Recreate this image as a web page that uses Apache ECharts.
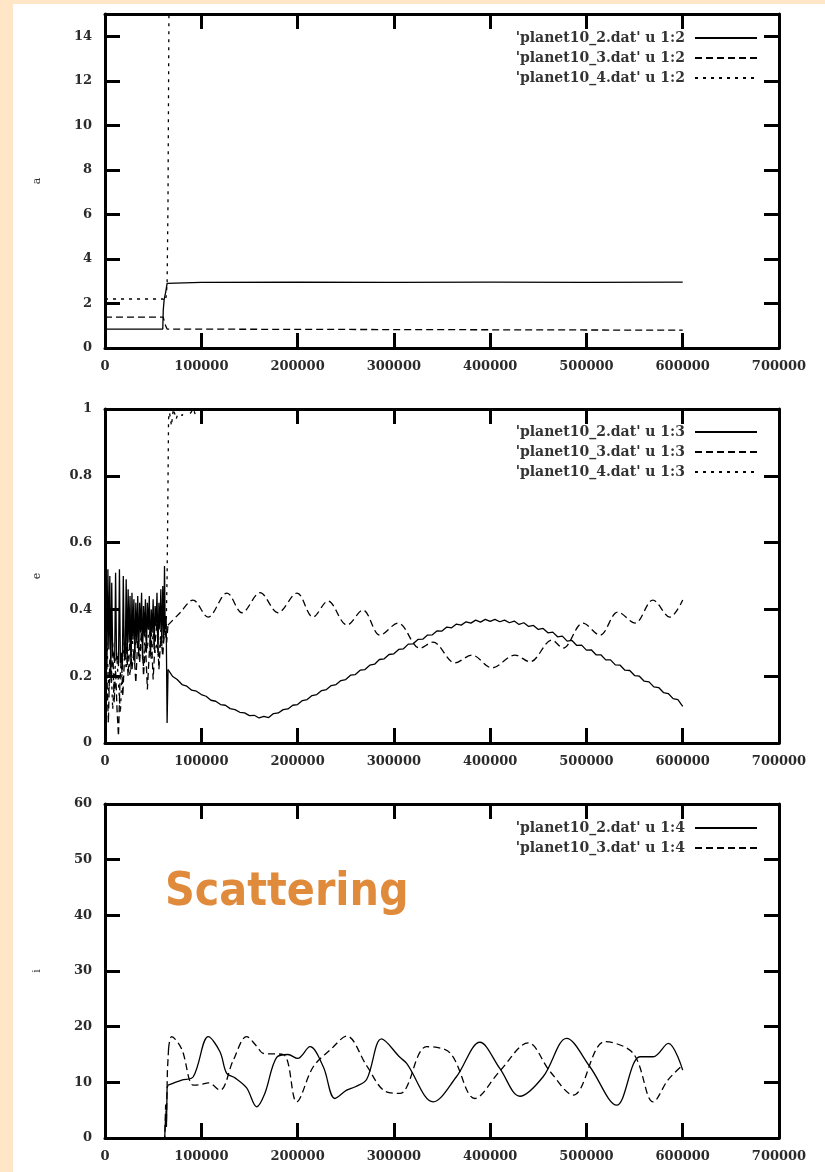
<!DOCTYPE html>
<html>
<head>
<meta charset="utf-8">
<script src="https://cdn.jsdelivr.net/npm/echarts@6/dist/echarts.min.js"></script>
<style>
html,body{margin:0;padding:0;background:#FEE6C6;}
#paper{position:absolute;left:13px;top:4px;width:812px;height:1168px;background:#fff;}
#chart{position:absolute;left:0;top:0;width:825px;height:1172px;}
</style>
</head>
<body>
<div id="paper"></div>
<div id="chart"></div>
<script>
// ---------- tick settings ----------
const xTickStep = 100000, xMax = 700000;
const aMax = 15, aStep = 2;
const eMax = 1, eStep = 0.2;
const iMax = 60, iStep = 10;

// ---------- legend labels ----------
const namesA = ["'planet10_2.dat' u 1:2", "'planet10_3.dat' u 1:2", "'planet10_4.dat' u 1:2"];
const namesE = ["'planet10_2.dat' u 1:3", "'planet10_3.dat' u 1:3", "'planet10_4.dat' u 1:3"];
const namesI = ["'planet10_2.dat' u 1:4", "'planet10_3.dat' u 1:4"];

// ---------- panel a (semi-major axis) ----------
const a2 = [[0,0.85],[60000,0.85],[60500,1.7],[61500,2.2],[63000,2.5],[64500,2.9],[66000,2.97],[100000,2.95],[200000,2.96],[300000,2.95],[400000,2.96],[500000,2.95],[600000,2.96]];
const a3 = [[0,1.39],[60500,1.39],[61500,1.2],[63000,1.0],[64500,0.85],[66500,0.8],[600000,0.8]];
const a4 = [[0,2.2],[60000,2.2],[62000,2.1],[63500,2.3],[64500,2.9],[65400,6.4],[66500,16]];

// ---------- panel e (eccentricity) ----------
const e2pre = [[0,0.25],[1000,0.53],[2000,0.22],[3000,0.52],[4000,0.28],[5000,0.50],[6000,0.20],[7000,0.48],[8000,0.26],[9000,0.27],[10000,0.24],[11000,0.51],[12000,0.25],[13000,0.26],[14000,0.23],[15000,0.52],[16000,0.24],[17000,0.27],[18000,0.22],[19000,0.50],[20000,0.26],[21000,0.25],[22000,0.49],[23000,0.24],[24000,0.46],[25000,0.30],[26000,0.44],[27000,0.22],[28000,0.45],[29000,0.31],[30000,0.43],[31000,0.24],[32000,0.42],[33000,0.30],[34000,0.44],[35000,0.26],[36000,0.42],[37000,0.33],[38000,0.45],[39000,0.25],[40000,0.41],[41000,0.32],[42000,0.43],[43000,0.27],[44000,0.42],[45000,0.34],[46000,0.44],[47000,0.26],[48000,0.40],[49000,0.33],[50000,0.43],[51000,0.28],[52000,0.41],[53000,0.35],[54000,0.45],[55000,0.27],[56000,0.42],[57000,0.34],[58000,0.46],[59000,0.29],[60000,0.47],[61000,0.31],[61800,0.53],[62500,0.34],[63500,0.38],[64500,0.06],[65500,0.22]];
const e2post = [[65500,0.22],[70000,0.20],[75000,0.19],[80000,0.175],[85000,0.17],[90000,0.158],[95000,0.155],[100000,0.145],[105000,0.14],[110000,0.128],[115000,0.125],[120000,0.115],[125000,0.113],[130000,0.103],[135000,0.1],[140000,0.092],[145000,0.09],[150000,0.082],[155000,0.083],[160000,0.075],[165000,0.08],[170000,0.076],[175000,0.088],[180000,0.09],[185000,0.1],[190000,0.102],[195000,0.113],[200000,0.115],[205000,0.127],[210000,0.13],[215000,0.142],[220000,0.145],[225000,0.157],[230000,0.16],[235000,0.172],[240000,0.175],[245000,0.187],[250000,0.19],[255000,0.203],[260000,0.205],[265000,0.218],[270000,0.22],[275000,0.233],[280000,0.236],[285000,0.25],[290000,0.252],[295000,0.265],[300000,0.267],[305000,0.28],[310000,0.282],[315000,0.296],[320000,0.297],[325000,0.31],[330000,0.311],[335000,0.323],[340000,0.324],[345000,0.336],[350000,0.335],[355000,0.347],[360000,0.345],[365000,0.356],[370000,0.353],[375000,0.363],[380000,0.359],[385000,0.368],[390000,0.362],[395000,0.37],[400000,0.364],[405000,0.37],[410000,0.363],[415000,0.368],[420000,0.36],[425000,0.365],[430000,0.355],[435000,0.36],[440000,0.349],[445000,0.352],[450000,0.34],[455000,0.343],[460000,0.33],[465000,0.332],[470000,0.318],[475000,0.32],[480000,0.305],[485000,0.307],[490000,0.292],[495000,0.293],[500000,0.278],[505000,0.279],[510000,0.264],[515000,0.264],[520000,0.249],[525000,0.249],[530000,0.234],[535000,0.233],[540000,0.218],[545000,0.217],[550000,0.202],[555000,0.2],[560000,0.185],[565000,0.183],[570000,0.168],[575000,0.166],[580000,0.151],[585000,0.148],[590000,0.133],[595000,0.13],[600000,0.11]];
const e3pre = [[0,0.28],[2000,0.20],[3500,0.06],[5000,0.25],[6500,0.18],[8000,0.30],[9500,0.12],[11000,0.22],[12500,0.10],[14000,0.02],[15500,0.18],[17000,0.26],[18500,0.14],[20000,0.24],[22000,0.30],[24000,0.20],[26000,0.33],[28000,0.22],[30000,0.28],[32000,0.18],[34000,0.31],[36000,0.24],[38000,0.35],[40000,0.20],[42000,0.30],[44000,0.16],[46000,0.27],[48000,0.33],[50000,0.19],[52000,0.30],[54000,0.36],[56000,0.22],[58000,0.32],[60000,0.26],[62000,0.35],[64000,0.30],[65400,0.353]];
const e3post = [[65400,0.353],[78000,0.39],[91400,0.428],[107000,0.377],[126700,0.449],[142300,0.390],[161000,0.450],[179600,0.390],[199400,0.449],[216000,0.377],[231600,0.425],[251300,0.353],[267900,0.398],[285600,0.323],[304300,0.359],[327100,0.284],[340600,0.302],[363400,0.240],[381100,0.263],[401900,0.225],[425800,0.263],[441300,0.243],[464200,0.308],[475600,0.284],[496400,0.359],[514000,0.323],[532700,0.392],[550400,0.359],[569000,0.428],[586700,0.377],[600000,0.428]];
const e4 = [[0,0.22],[2000,0.30],[4000,0.15],[6000,0.26],[8000,0.10],[10000,0.21],[12000,0.27],[14000,0.18],[16000,0.09],[18000,0.24],[20000,0.30],[22000,0.22],[24000,0.28],[26000,0.20],[28000,0.33],[30000,0.24],[32000,0.30],[34000,0.35],[36000,0.26],[38000,0.32],[40000,0.23],[42000,0.34],[44000,0.28],[46000,0.36],[48000,0.25],[50000,0.33],[52000,0.27],[54000,0.30],[56000,0.24],[58000,0.34],[60000,0.30],[62000,0.32],[63500,0.35],[64500,0.5],[65000,0.64],[65500,0.8],[66000,0.97],[67000,0.99],[69000,0.95],[71000,1.0],[74000,0.97],[77000,1.0],[80000,0.98],[84000,1.0],[88000,0.985],[92000,1.0],[94000,0.98]];

// ---------- panel i (inclination) ----------
const i2pre = [[0,0],[62000,0],[63000,4],[63800,2],[64500,9],[65500,9.5]];
const i2post = [[65500,9.5],[79600,10.4],[91700,11],[107300,18.2],[119400,15.5],[126400,11.6],[135000,10.8],[147100,9],[157500,5.6],[166000,8],[178300,14.5],[190000,15],[200000,14.3],[212900,16.4],[226700,12.8],[238800,7.1],[251000,8.6],[260000,9.2],[271700,10.5],[287300,17.8],[306300,14.5],[313300,13.4],[340900,6.5],[365000,11],[389400,17.2],[410000,12.5],[431000,7.5],[455000,11],[479400,17.9],[503600,12.8],[531400,5.9],[555600,14.6],[569400,14.6],[585000,17],[600000,12.2]];
const i3pre = [[0,0],[62000,0],[63000,6],[63800,3],[64800,12],[66000,16]];
const i3post = [[66000,16],[69200,18.2],[79600,16],[91700,9.5],[100000,9.6],[107300,9.9],[119400,8.6],[133300,14],[147100,18.2],[157500,16.5],[164400,15.2],[185200,15],[199100,6.5],[216300,12.8],[235000,16],[251000,18.3],[271700,13],[290000,8.5],[306300,8],[334000,16.4],[358300,15.3],[384200,7.1],[410000,12],[439600,17.1],[462000,12],[486300,7.7],[519200,17.3],[548600,15.2],[569400,6.5],[585000,10.5],[600000,13.1]];

// ---------- build option ----------
const FRAME = {onZero:false, lineStyle:{color:'#000',width:3}};
const TICK = {inside:true,length:15,lineStyle:{color:'#000',width:3}};
const LABEL = {color:'#2a2a2a',fontFamily:'DejaVu Serif',fontWeight:'bold',fontSize:13};
const gridTops = [14, 409, 804];
const gridH = 334;

const grids = gridTops.map(t => ({left:105, width:674, top:t, height:gridH, containLabel:false}));
const xAxes = [], yAxes = [];
const yMax = [aMax, eMax, iMax], ySteps = [aStep, eStep, iStep], yNames = ['a','e','i'];
for (let g = 0; g < 3; g++) {
  xAxes.push({type:'value', gridIndex:g, min:0, max:xMax, interval:xTickStep, position:'bottom',
    axisLine:FRAME, axisTick:TICK, splitLine:{show:false},
    axisLabel:Object.assign({margin:12, formatter:v=>String(v)}, LABEL)});
  xAxes.push({type:'value', gridIndex:g, min:0, max:xMax, interval:xTickStep, position:'top',
    axisLine:FRAME, axisTick:TICK, splitLine:{show:false}, axisLabel:{show:false}});
  yAxes.push({type:'value', gridIndex:g, min:0, max:yMax[g], interval:ySteps[g], position:'left',
    name:yNames[g], nameLocation:'middle', nameRotate:90, nameGap:62,
    nameTextStyle:{color:'#333',fontFamily:'DejaVu Serif',fontSize:11},
    axisLine:FRAME, axisTick:TICK, splitLine:{show:false},
    axisLabel:Object.assign({margin:13, showMaxLabel: g !== 0, formatter:v=>String(+v.toFixed(2))}, LABEL)});
  yAxes.push({type:'value', gridIndex:g, min:0, max:yMax[g], interval:ySteps[g], position:'right',
    axisLine:FRAME, axisTick:TICK, splitLine:{show:false}, axisLabel:{show:false}});
}

const SOLID = 'solid', LONG = [7,4], SHORT = [3,5];
function line(name, data, g, dash, smooth) {
  return {type:'line', name, data, xAxisIndex:2*g, yAxisIndex:2*g, symbol:'none',
    smooth: smooth ? 0.35 : false, clip:true, animation:false,
    lineStyle:{color:'#000', width:1.3, type:dash}, itemStyle:{color:'#000'}};
}
const series = [
  line(namesA[0], a2, 0, SOLID), line(namesA[1], a3, 0, LONG), line(namesA[2], a4, 0, SHORT),
  line(namesE[0], e2pre, 1, SOLID), line(namesE[0], e2post, 1, SOLID),
  line(namesE[1], e3pre, 1, LONG), line(namesE[1], e3post, 1, LONG, true),
  line(namesE[2], e4, 1, SHORT),
  line(namesI[0], i2pre, 2, SOLID), line(namesI[0], i2post, 2, SOLID, true),
  line(namesI[1], i3pre, 2, LONG), line(namesI[1], i3post, 2, LONG, true)
];

function legend(names, top) {
  return {data:names, orient:'vertical', right:67, top, padding:0, align:'right', itemWidth:62, itemHeight:13,
    itemGap:6, selectedMode:false,
    itemStyle:{color:'rgba(0,0,0,0)', borderColor:'rgba(0,0,0,0)', borderWidth:0, opacity:0},
    textStyle:{color:'#333', fontFamily:'DejaVu Serif', fontWeight:'bold', fontSize:14, padding:[0,5,0,0]}};
}

const option = {
  animation:false,
  grid:grids, xAxis:xAxes, yAxis:yAxes, series,
  legend:[legend(namesA, 31), legend(namesE, 425), legend(namesI, 821)],
  graphic:[{type:'text', left:165, top:870, z:100,
    style:{text:'Scattering', fill:'#E08A3B', font:'bold 46px "DejaVu Sans Condensed", "DejaVu Sans"'}}]
};
const chart = echarts.init(document.getElementById('chart'), null, {renderer:'canvas'});
chart.setOption(option);
</script>
</body>
</html>
